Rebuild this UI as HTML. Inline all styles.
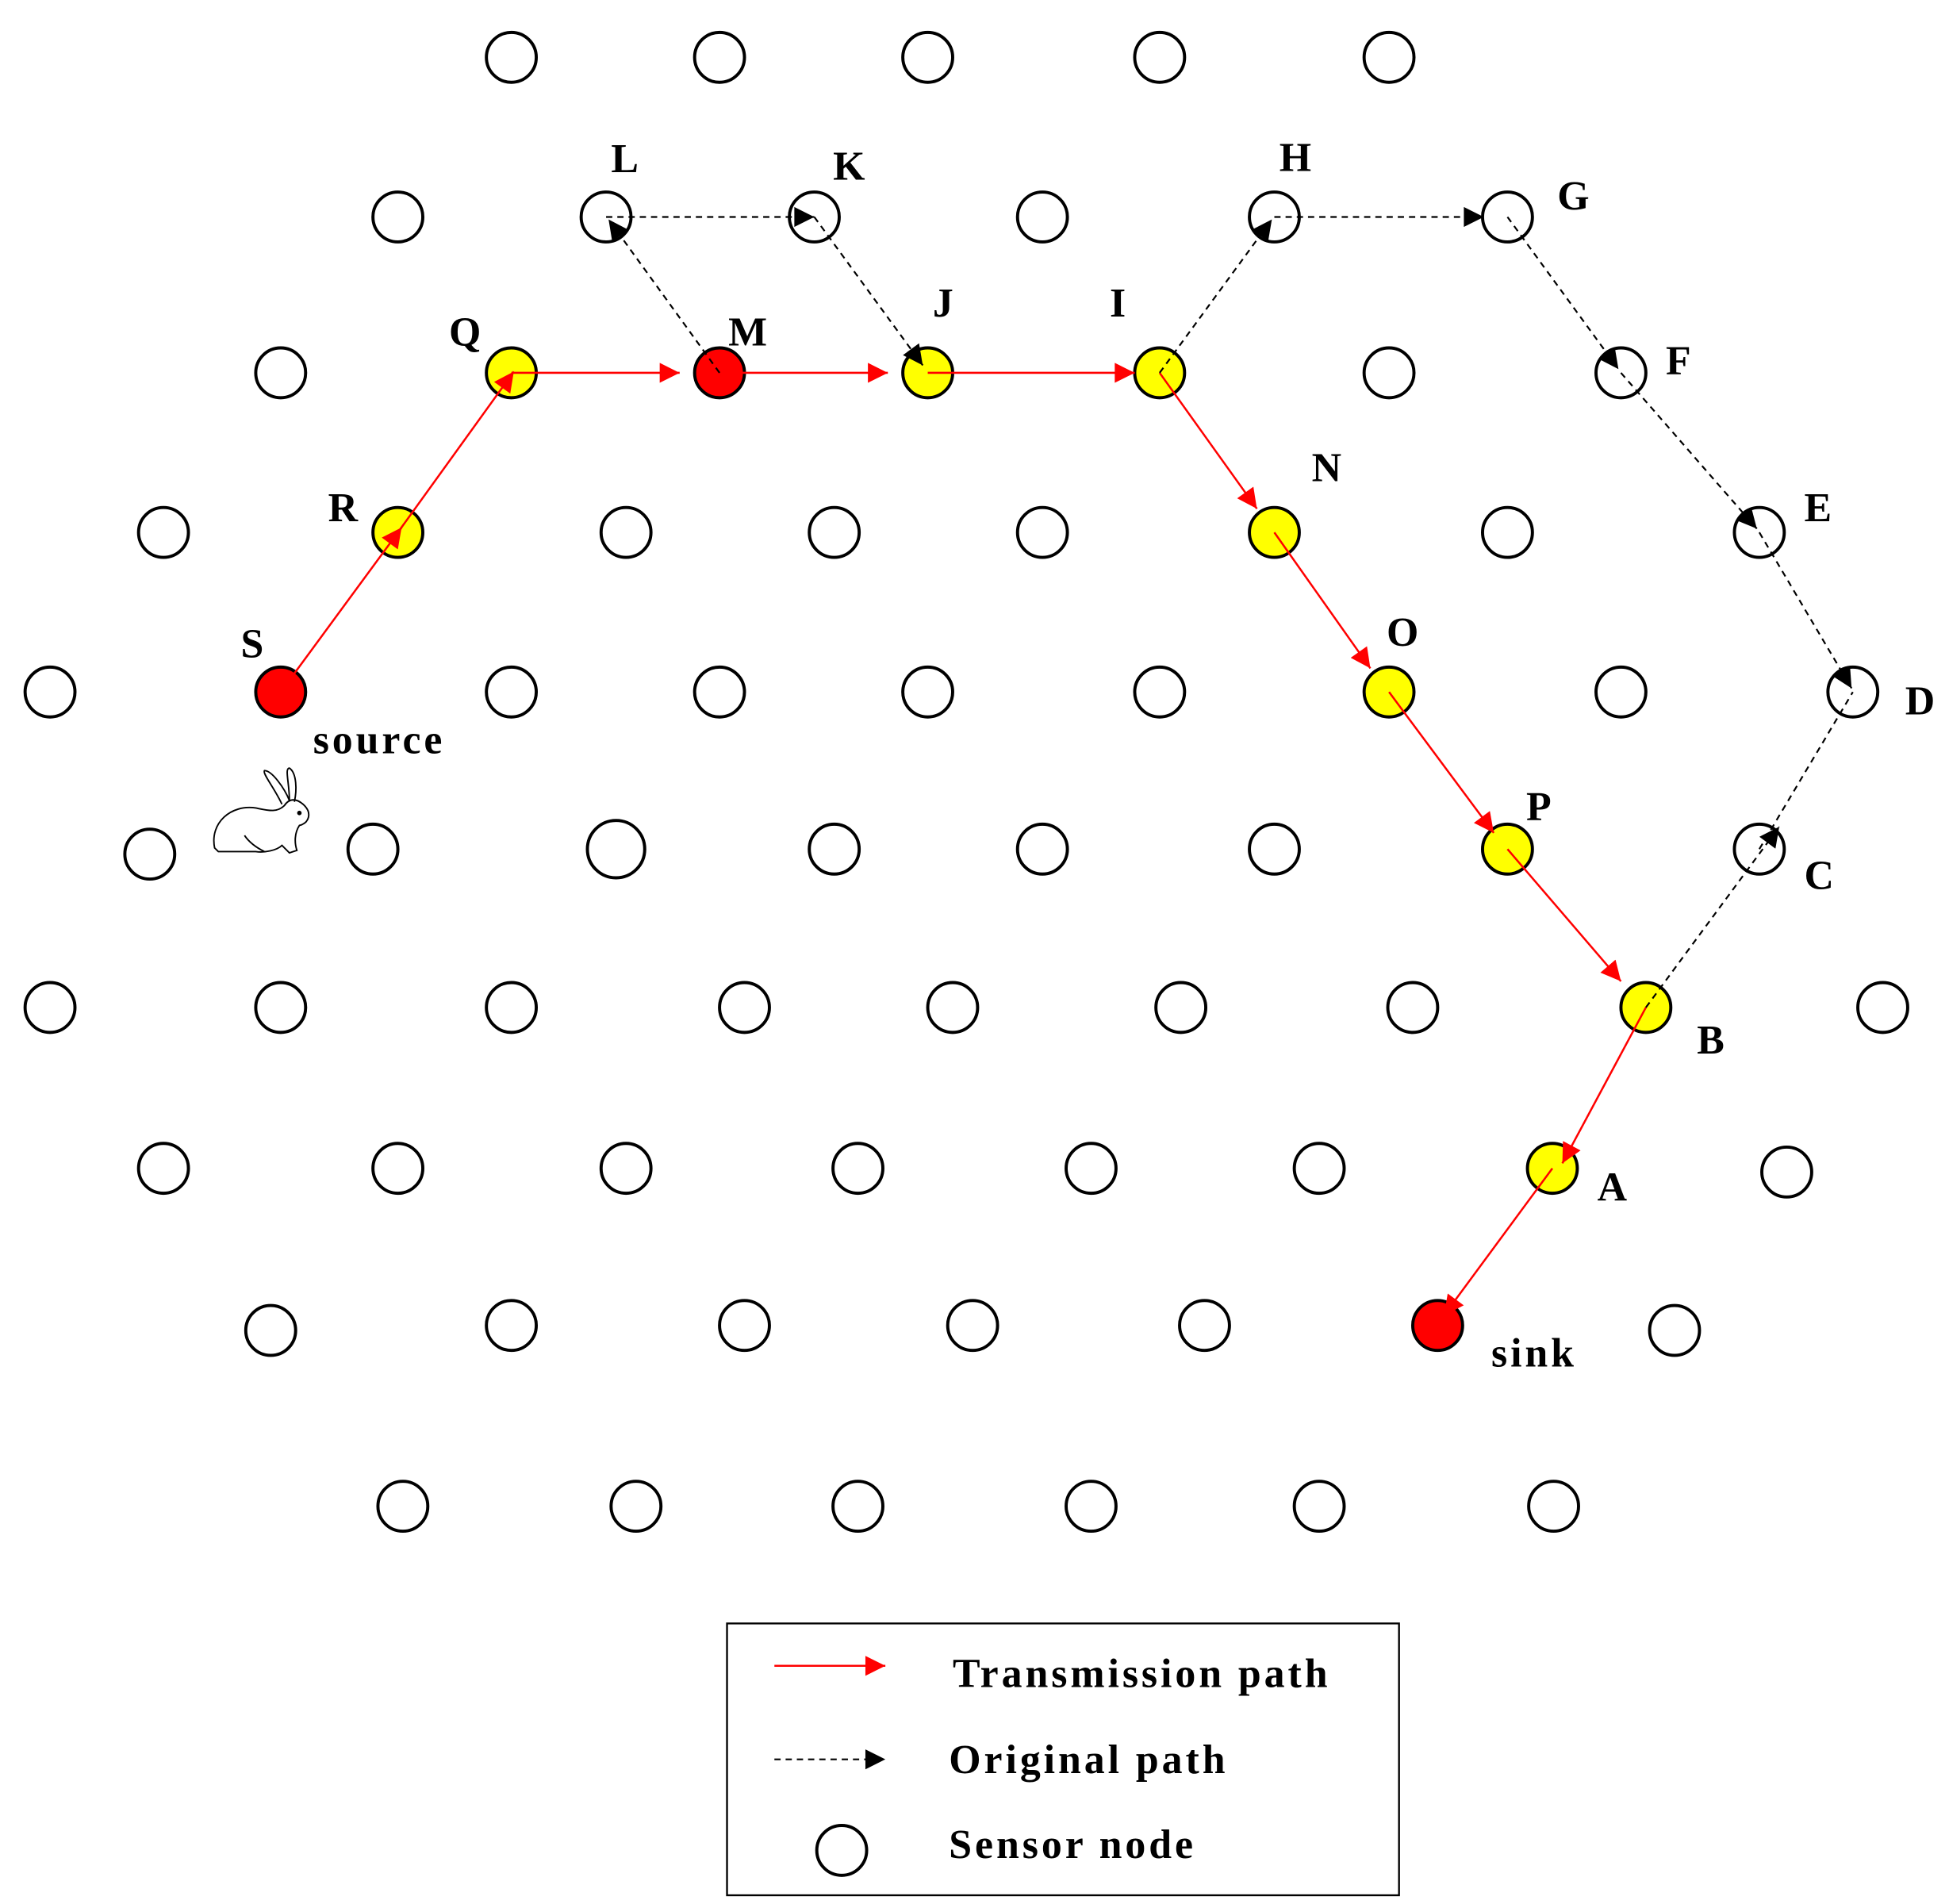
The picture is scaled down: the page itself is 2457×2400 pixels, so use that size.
<!DOCTYPE html>
<html><head><meta charset="utf-8"><style>
html,body{margin:0;padding:0;background:#fff;}
svg{display:block;}
text{font-family:"Liberation Serif",serif;font-weight:bold;font-size:33px;letter-spacing:2.5px;fill:#000;}
</style></head><body>
<svg width="2457" height="2400" viewBox="0 0 1563 1527" xmlns="http://www.w3.org/2000/svg">
<defs>
<marker id="ra" viewBox="0 0 10 10" refX="10" refY="5" markerWidth="22" markerHeight="16" markerUnits="userSpaceOnUse" orient="auto"><path d="M0,0 L10,5 L0,10 z" fill="#ff0000"/></marker>
<marker id="ka" viewBox="0 0 10 10" refX="10" refY="5" markerWidth="22" markerHeight="16" markerUnits="userSpaceOnUse" orient="auto"><path d="M0,0 L10,5 L0,10 z" fill="#000"/></marker>
</defs>
<g fill="#fff" stroke="#000" stroke-width="2.5">
<circle cx="410" cy="46" r="20"/><circle cx="577" cy="46" r="20"/><circle cx="744" cy="46" r="20"/><circle cx="930" cy="46" r="20"/><circle cx="1114" cy="46" r="20"/>
<circle cx="319" cy="174" r="20"/><circle cx="486" cy="174" r="20"/><circle cx="653" cy="174" r="20"/><circle cx="836" cy="174" r="20"/><circle cx="1022" cy="174" r="20"/><circle cx="1209" cy="174" r="20"/>
<circle cx="225" cy="299" r="20"/><circle cx="410" cy="299" r="20" fill="#ffff00"/><circle cx="577" cy="299" r="20" fill="#ff0000"/><circle cx="744" cy="299" r="20" fill="#ffff00"/><circle cx="930" cy="299" r="20" fill="#ffff00"/><circle cx="1114" cy="299" r="20"/><circle cx="1300" cy="299" r="20"/>
<circle cx="131" cy="427" r="20"/><circle cx="319" cy="427" r="20" fill="#ffff00"/><circle cx="502" cy="427" r="20"/><circle cx="669" cy="427" r="20"/><circle cx="836" cy="427" r="20"/><circle cx="1022" cy="427" r="20" fill="#ffff00"/><circle cx="1209" cy="427" r="20"/><circle cx="1411" cy="427" r="20"/>
<circle cx="40" cy="555" r="20"/><circle cx="225" cy="555" r="20" fill="#ff0000"/><circle cx="410" cy="555" r="20"/><circle cx="577" cy="555" r="20"/><circle cx="744" cy="555" r="20"/><circle cx="930" cy="555" r="20"/><circle cx="1114" cy="555" r="20" fill="#ffff00"/><circle cx="1300" cy="555" r="20"/><circle cx="1486" cy="555" r="20"/>
<circle cx="120" cy="685" r="20"/><circle cx="299" cy="681" r="20"/><circle cx="494" cy="681" r="23"/><circle cx="669" cy="681" r="20"/><circle cx="836" cy="681" r="20"/><circle cx="1022" cy="681" r="20"/><circle cx="1209" cy="681" r="20" fill="#ffff00"/><circle cx="1411" cy="681" r="20"/>
<circle cx="40" cy="808" r="20"/><circle cx="225" cy="808" r="20"/><circle cx="410" cy="808" r="20"/><circle cx="597" cy="808" r="20"/><circle cx="764" cy="808" r="20"/><circle cx="947" cy="808" r="20"/><circle cx="1133" cy="808" r="20"/><circle cx="1320" cy="808" r="20" fill="#ffff00"/><circle cx="1510" cy="808" r="20"/>
<circle cx="131" cy="937" r="20"/><circle cx="319" cy="937" r="20"/><circle cx="502" cy="937" r="20"/><circle cx="688" cy="937" r="20"/><circle cx="875" cy="937" r="20"/><circle cx="1058" cy="937" r="20"/><circle cx="1245" cy="937" r="20" fill="#ffff00"/><circle cx="1433" cy="940" r="20"/>
<circle cx="217" cy="1067" r="20"/><circle cx="410" cy="1063" r="20"/><circle cx="597" cy="1063" r="20"/><circle cx="780" cy="1063" r="20"/><circle cx="966" cy="1063" r="20"/><circle cx="1153" cy="1063" r="20" fill="#ff0000"/><circle cx="1343" cy="1067" r="20"/>
<circle cx="323" cy="1208" r="20"/><circle cx="510" cy="1208" r="20"/><circle cx="688" cy="1208" r="20"/><circle cx="875" cy="1208" r="20"/><circle cx="1058" cy="1208" r="20"/><circle cx="1246" cy="1208" r="20"/>
</g>
<g stroke="#ff0000" stroke-width="1.6" fill="none" marker-end="url(#ra)">
<line x1="225" y1="555" x2="322" y2="423"/>
<line x1="319" y1="427" x2="412" y2="298"/>
<line x1="410" y1="299" x2="545" y2="299"/>
<line x1="577" y1="299" x2="712" y2="299"/>
<line x1="744" y1="299" x2="910" y2="299"/>
<line x1="930" y1="299" x2="1008" y2="408"/>
<line x1="1022" y1="427" x2="1099" y2="536"/>
<line x1="1114" y1="555" x2="1198" y2="668"/>
<line x1="1209" y1="681" x2="1300" y2="787"/>
<line x1="1320" y1="808" x2="1253" y2="933"/>
<line x1="1245" y1="937" x2="1158" y2="1055"/>
</g>
<g stroke="#000" stroke-width="1.4" fill="none" stroke-dasharray="5,4" marker-end="url(#ka)">
<line x1="577" y1="299" x2="488" y2="176"/>
<line x1="486" y1="174" x2="653" y2="174"/>
<line x1="653" y1="174" x2="740" y2="293"/>
<line x1="930" y1="299" x2="1020" y2="176"/>
<line x1="1022" y1="174" x2="1190" y2="174"/>
<line x1="1209" y1="174" x2="1298" y2="296"/>
<line x1="1300" y1="299" x2="1409" y2="424"/>
<line x1="1411" y1="427" x2="1485" y2="552"/>
<line x1="1320" y1="808" x2="1427" y2="663"/>
</g>
<line x1="1411" y1="681" x2="1486" y2="555" stroke="#000" stroke-width="1.4" stroke-dasharray="5,4"/>
<text x="490" y="138">L</text>
<text x="668" y="144">K</text>
<text x="1026" y="137">H</text>
<text x="1249" y="168">G</text>
<text x="748" y="254">J</text>
<text x="890" y="254">I</text>
<text x="584" y="277">M</text>
<text x="360" y="277">Q</text>
<text x="1336" y="300">F</text>
<text x="263" y="418">R</text>
<text x="1052" y="386">N</text>
<text x="1447" y="418">E</text>
<text x="193" y="527">S</text>
<text x="1112" y="518">O</text>
<text x="1528" y="573">D</text>
<text x="251" y="604">source</text>
<text x="1224" y="658">P</text>
<text x="1447" y="713">C</text>
<text x="1361" y="845">B</text>
<text x="1281" y="963">A</text>
<text x="1196" y="1096">sink</text>
<g stroke="#000" stroke-width="1.2" fill="none">
<path d="M172,680 C168,660 185,645 205,648 C215,650 222,652 228,646 C232,640 238,640 244,646 C250,652 248,660 240,662 C236,668 236,676 238,682 L232,684 L226,678 C222,682 212,684 205,683 L175,683 Z"/>
<path d="M226,645 C220,632 210,620 212,618 C218,618 228,632 232,642"/>
<path d="M232,642 C232,628 228,616 232,616 C238,620 238,634 236,643"/>
<path d="M196,670 C200,676 206,680 212,683"/>
<circle cx="240" cy="652" r="1.2" fill="#000"/>
</g>
<rect x="583" y="1302" width="539" height="218" fill="#fff" stroke="#000" stroke-width="1.5"/>
<line x1="621" y1="1336" x2="710" y2="1336" stroke="#ff0000" stroke-width="1.6" marker-end="url(#ra)"/>
<line x1="621" y1="1411" x2="710" y2="1411" stroke="#000" stroke-width="1.4" stroke-dasharray="5,4" marker-end="url(#ka)"/>
<circle cx="675" cy="1484" r="20" fill="#fff" stroke="#000" stroke-width="2.5"/>
<text x="764" y="1353">Transmission path</text>
<text x="761" y="1422">Original path</text>
<text x="761" y="1490">Sensor node</text>
</svg>
</body></html>
